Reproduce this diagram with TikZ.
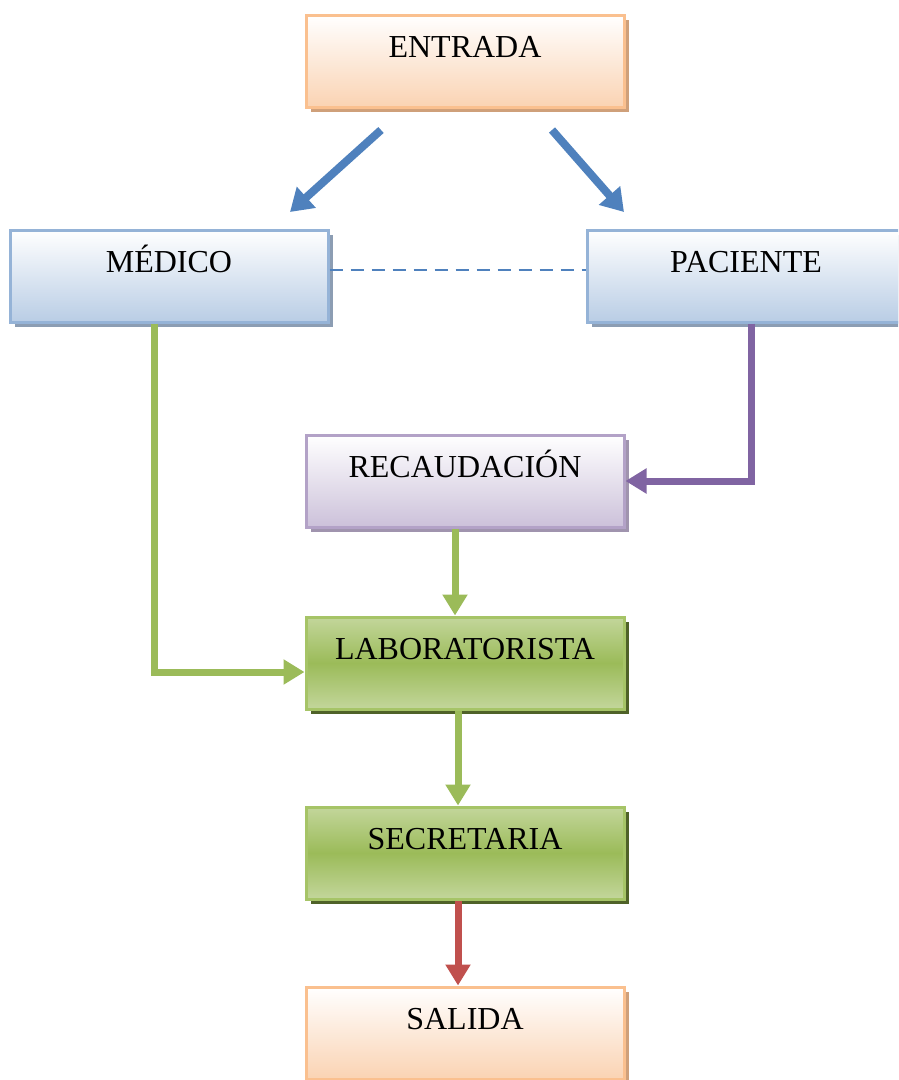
\documentclass[tikz,border=0pt]{standalone}
\usepackage{fontspec}
\setmainfont{Liberation Serif}
\usetikzlibrary{arrows.meta,shadows,calc}
\definecolor{cblue}{HTML}{4F81BD}
\definecolor{cgreen}{HTML}{9BBB59}
\definecolor{cpurple}{HTML}{8064A2}
\definecolor{cred}{HTML}{C0504D}
\definecolor{oborder}{HTML}{FAC08F}
\definecolor{ofill}{HTML}{FAD3B3}
\definecolor{oshadow}{HTML}{CFA07A}
\definecolor{bborder}{HTML}{95B3D7}
\definecolor{bfill}{HTML}{B9CDE5}
\definecolor{bshadow}{HTML}{8C9DB3}
\definecolor{pborder}{HTML}{B3A2C7}
\definecolor{pfill}{HTML}{CCC1DA}
\definecolor{pshadow}{HTML}{A094AE}
\definecolor{gborder}{HTML}{A6C467}
\definecolor{glight}{HTML}{C3D69B}
\definecolor{gshadow}{HTML}{4F6228}
\tikzset{
  boxbase/.style={rectangle, minimum width=318pt, minimum height=92pt, inner sep=0pt, line width=3pt},
  obox/.style={boxbase, draw=oborder, top color=white, bottom color=ofill,
    drop shadow={shadow xshift=5pt, shadow yshift=-5pt, fill=oshadow, opacity=1}},
  bbox/.style={boxbase, draw=bborder, top color=white, bottom color=bfill,
    drop shadow={shadow xshift=5pt, shadow yshift=-5pt, fill=bshadow, opacity=1}},
  pbox/.style={boxbase, draw=pborder, top color=white, bottom color=pfill,
    drop shadow={shadow xshift=5pt, shadow yshift=-5pt, fill=pshadow, opacity=1}},
  gbox/.style={boxbase, draw=gborder, top color=glight, bottom color=glight, middle color=cgreen,
    drop shadow={shadow xshift=5pt, shadow yshift=-5pt, fill=gshadow, opacity=1}},
  lbl/.style={anchor=base, inner sep=0pt, font=\fontsize{32}{36}\selectfont},
  conn/.style={line width=7pt, -{Triangle[width=24pt,length=21pt]}},
  bluearrow/.style={draw=cblue, line width=8pt, -{Triangle[width=27pt,length=22pt]}},
}
\begin{document}
\begin{tikzpicture}[x=1pt,y=-1pt]
\useasboundingbox (0,0) rectangle (898,1080);
\clip (0,0) rectangle (898,1080);
% boxes
\node[obox] (entrada) at (465,61) {};
\node[bbox] (medico) at (169,276) {};
\node[bbox] (paciente) at (746,276) {};
\node[pbox] (recaud) at (465,481) {};
\node[gbox] (lab) at (465,663) {};
\node[gbox] (secre) at (465,853) {};
\node[obox] (salida) at (465,1033) {};
% labels
\node[lbl] (tentrada) at ($(entrada.north)+(0,44)$) {ENTRADA};
\node[lbl] (tmedico) at ($(medico.north)+(0,44)$) {MÉDICO};
\node[lbl] (tpaciente) at ($(paciente.north)+(0,44)$) {PACIENTE};
\node[lbl] (trecaud) at ($(recaud.north)+(0,44)$) {RECAUDACIÓN};
\node[lbl] (tlab) at ($(lab.north)+(0,44)$) {LABORATORISTA};
\node[lbl] (tsecre) at ($(secre.north)+(0,44)$) {SECRETARIA};
\node[lbl] (tsalida) at ($(salida.north)+(0,44)$) {SALIDA};
% connectors
\coordinate (eL) at (381,130);
\coordinate (eR) at (552,130);
\coordinate (mT) at (290,212);
\coordinate (pT) at (624,212);
\draw[bluearrow] (eL) -- (mT);
\draw[bluearrow] (eR) -- (pT);
\draw[cblue, line width=2.4pt, dash pattern=on 13pt off 8pt] ($(medico.east)+(0,-6)$) -- ($(paciente.west)+(0,-6)$);
\coordinate (pB) at ($(paciente.south)+(5,0)$);
\draw[conn, draw=cpurple] (pB) |- (recaud.east);
\draw[conn, draw=cgreen] ($(recaud.south)+(-10,0)$) -- ($(lab.north)+(-10,0)$);
\coordinate (mB) at ($(medico.south)+(-15,0)$);
\draw[conn, draw=cgreen] (mB) |- ($(lab.west)+(0,9)$);
\draw[conn, draw=cgreen] ($(lab.south)+(-7,0)$) -- ($(secre.north)+(-7,0)$);
\draw[conn, draw=cred] ($(secre.south)+(-7,0)$) -- ($(salida.north)+(-7,0)$);
\end{tikzpicture}
\end{document}
